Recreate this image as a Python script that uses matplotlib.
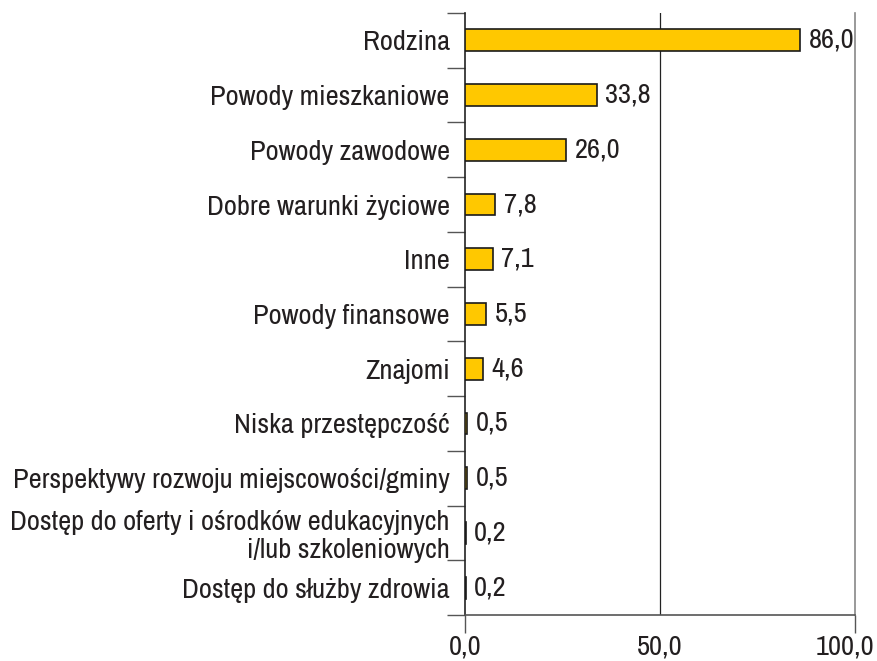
import numpy as np
import matplotlib.pyplot as plt
import matplotlib.transforms as mtransforms

# ========================
# Data
# ========================
categories = [
    "Rodzina",
    "Powody mieszkaniowe",
    "Powody zawodowe",
    "Dobre warunki życiowe",
    "Inne",
    "Powody finansowe",
    "Znajomi",
    "Niska przestępczość",
    "Perspektywy rozwoju miejscowości/gminy",
    "Dostęp do oferty i ośrodków edukacyjnych\ni/lub szkoleniowych",
    "Dostęp do służby zdrowia",
]
values = [86.0, 33.8, 26.0, 7.8, 7.1, 5.5, 4.6, 0.5, 0.5, 0.2, 0.2]
x_ticks = [0, 50, 100]
x_tick_labels = ["0,0", "50,0", "100,0"]

plt.rcParams['font.family'] = ['Archivo Narrow', 'Roboto Condensed', 'DejaVu Sans']
text_color = "#231f20"

fig = plt.figure(figsize=(8.77, 6.61), dpi=100)
ax = fig.add_axes([465 / 877, 46 / 661, 390 / 877, 602 / 661])

y = np.arange(len(categories))
ax.barh(y, values, height=0.4, color="#FFC800", edgecolor="#1a1a1a",
        linewidth=1.2, zorder=3)

# value labels next to bars
for yi, v in zip(y, values):
    ax.text(v + 2.2, yi, f"{v:.1f}".replace(".", ","), va="center", ha="left",
            fontsize=20.5, color=text_color, zorder=4)

ax.set_xlim(0, 100)
ax.set_ylim(len(categories) - 0.5, -0.5)

# y axis: labels without ticks, boundary ticks as minor
ax.set_yticks(y)
ax.set_yticklabels(categories, fontsize=20.5, color=text_color, linespacing=1.15)
ax.set_yticks(np.arange(-0.5, len(categories), 1.0), minor=True)
ax.tick_params(axis="y", which="major", length=0, pad=11)
ax.tick_params(axis="y", which="minor", length=13, width=1.0, color="#555555")

# x axis
ax.set_xticks(x_ticks)
ax.set_xticklabels(x_tick_labels, fontsize=20.5, color=text_color)
ax.tick_params(axis="x", which="major", length=13, width=1.0, color="#555555", pad=1)
ax.xaxis.get_major_ticks()[1].tick1line.set_visible(False)

# keep the last tick label inside the figure
last = ax.get_xticklabels()[-1]
last.set_transform(last.get_transform() +
                   mtransforms.ScaledTranslation(-7 / 72, 0, fig.dpi_scale_trans))

# grid line at 50
ax.axvline(50, color="#222222", linewidth=0.9, zorder=1)

ax.spines["top"].set_visible(False)
ax.spines["right"].set_color("#888888")
ax.spines["right"].set_linewidth(1.2)
ax.spines["left"].set_color("#222222")
ax.spines["left"].set_linewidth(1.2)
ax.spines["bottom"].set_color("#555555")
ax.spines["bottom"].set_linewidth(1.2)

fig.savefig("out.png", dpi=100)
